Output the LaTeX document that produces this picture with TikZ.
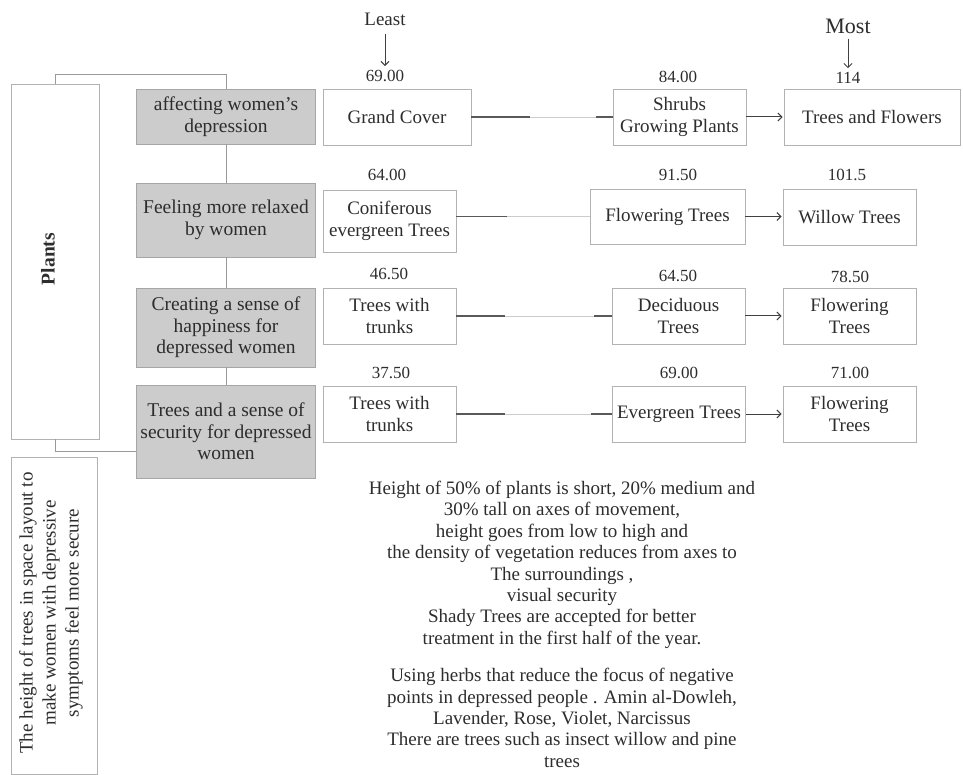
\documentclass[tikz,border=0pt]{standalone}
\usepackage{fontspec}
\setmainfont{Liberation Serif}
\usetikzlibrary{arrows.meta}
\definecolor{txt}{RGB}{45,45,45}
\begin{document}
\begin{tikzpicture}[x=1pt,y=-1pt,
  every node/.style={text=txt},
  gbox/.style={draw=black!35, fill=black!20, line width=0.8pt, align=center, inner sep=0pt, font=\fontsize{19.5}{21.5}\selectfont},
  wbox/.style={draw=black!30, fill=white, line width=0.8pt, align=center, inner sep=0pt, font=\fontsize{19}{21.5}\selectfont},
  num/.style={font=\fontsize{17}{20}\selectfont, inner sep=0pt},
  bracket/.style={draw=black!40, line width=1pt},
  faint/.style={draw=black!20, line width=0.9pt},
  strong/.style={draw=black!65, line width=1.3pt},
  arr/.style={draw=black!75, line width=1pt, shorten >=1pt, -{Straight Barb[length=4pt,width=8pt]}},
  lbl/.style={inner sep=0pt},
]
\useasboundingbox[fill=white] (0,0) rectangle (963,775);

% left column boxes
\node[wbox, minimum width=88pt, minimum height=355pt] (plants) at (55,261.5) {};
\node[lbl, rotate=90, font=\bfseries\fontsize{19.5}{22}\selectfont] (plantslbl) at (48,259) {Plants};
\node[wbox, minimum width=86pt, minimum height=317pt] (hbox) at (54,616) {};
\node[lbl, rotate=90, align=center, font=\fontsize{19}{23}\selectfont] (hboxlbl) at (51,613)
  {The height of trees in space layout to\\make women with depressive\\symptoms feel more secure};

% gray category boxes
\node[gbox, minimum width=179pt, minimum height=55pt] (g1) at (226,116.5) {affecting women's\\depression};
\node[gbox, minimum width=179pt, minimum height=74pt] (g2) at (226,220) {Feeling more relaxed\\by women};
\node[gbox, minimum width=179pt, minimum height=79pt] (g3) at (226,327.5) {Creating a sense of\\happiness for\\depressed women};
\node[gbox, minimum width=179pt, minimum height=93pt] (g4) at (226,431.5) {Trees and a sense of\\security for depressed\\women};

% brackets
\coordinate (lowy) at (0,451);
\draw[bracket] (plants.north) -- ++(0,-9) -| (g1.north);
\draw[bracket] (g1) -- (g2);
\draw[bracket] (g2) -- (g3);
\draw[bracket] (g3) -- (g4);
\draw[bracket] (plants.south) |- (g4.west |- lowy);

% row 1
\node[wbox, minimum width=148pt, minimum height=56pt] (a1) at (397,117) {Grand Cover};
\node[wbox, minimum width=133pt, minimum height=56pt] (b1) at (679.5,117) {Shrubs\\Growing Plants};
\node[wbox, minimum width=176pt, minimum height=56pt] (c1) at (872,117) {Trees and Flowers};
% row 2
\node[wbox, minimum width=133pt, minimum height=62pt] (a2) at (389.5,221) {Coniferous\\evergreen Trees};
\node[wbox, minimum width=155pt, minimum height=55pt] (b2) at (667.5,216.5) {Flowering Trees};
\node[wbox, minimum width=133pt, minimum height=56pt] (c2) at (849.5,217.5) {Willow Trees};
% row 3
\node[wbox, minimum width=133pt, minimum height=56pt] (a3) at (389.5,316) {Trees with\\trunks};
\node[wbox, minimum width=133pt, minimum height=56pt] (b3) at (678.5,316) {Deciduous\\Trees};
\node[wbox, minimum width=133pt, minimum height=56pt] (c3) at (849.5,316) {Flowering\\Trees};
% row 4
\node[wbox, minimum width=133pt, minimum height=56pt] (a4) at (389.5,414) {Trees with\\trunks};
\node[wbox, minimum width=133pt, minimum height=56pt] (b4) at (679,414) {Evergreen Trees};
\node[wbox, minimum width=133pt, minimum height=56pt] (c4) at (849.5,414) {Flowering\\Trees};

% numbers
\node[num] (n11) at (385,76) {69.00};
\node[num] (n12) at (678,77) {84.00};
\node[num] (n13) at (848,78) {114};
\node[num] (n21) at (387,175) {64.00};
\node[num] (n22) at (678,175) {91.50};
\node[num] (n23) at (847,175) {101.5};
\node[num] (n31) at (389,274) {46.50};
\node[num] (n32) at (678,276) {64.50};
\node[num] (n33) at (850,277) {78.50};
\node[num] (n41) at (391,373) {37.50};
\node[num] (n42) at (679,373) {69.00};
\node[num] (n43) at (850,373) {71.00};

% Least / Most
\node[lbl, font=\fontsize{19}{22}\selectfont] (least) at (385,19) {Least};
\node[lbl, font=\fontsize{22}{25}\selectfont] (most) at (848,26) {Most};
\draw[arr, shorten <=8pt, shorten >=4pt] (least) -- (n11);
\draw[arr, shorten <=5pt, shorten >=4pt] (most) -- (n13);

% connectors row 1
\draw[faint] (a1.east) -- (b1.west);
\draw[strong] (a1.east) -- ++(59,0);
\draw[strong] (b1.west) -- ++(-17,0);
\draw[arr] (b1.east) -- (c1.west);
% row 2
\draw[faint] (a2.east |- b2.west) -- (b2.west);
\draw[strong] (a2.east |- b2.west) -- ++(51,0);
\draw[arr] (b2.east) -- (b2.east -| c2.west);
% row 3
\draw[faint] (a3.east) -- (b3.west);
\draw[strong] (a3.east) -- ++(49,0);
\draw[strong] (b3.west) -- ++(-18,0);
\draw[arr] (b3.east) -- (c3.west);
% row 4
\draw[faint] (a4.east) -- (b4.west);
\draw[strong] (a4.east) -- ++(49,0);
\draw[strong] (b4.west) -- ++(-21,0);
\draw[arr] (b4.east) -- (c4.west);

% notes
\node[lbl, anchor=north, align=center, font=\fontsize{19}{21.4}\selectfont] (notes) at (562,481)
{Height of 50\% of plants is short, 20\% medium and\\
30\% tall on  axes of movement,\\
height goes from low to high and\\
the density of vegetation reduces from  axes to\\
The surroundings ,\\
visual security\\
Shady Trees  are accepted for better\\
treatment in the first half of the year.\\[16pt]
Using  herbs that reduce the focus of negative\\
points in depressed people . Amin al-Dowleh,\\
Lavender, Rose, Violet, Narcissus\\
There are trees such as insect willow and pine\\
trees};
\end{tikzpicture}
\end{document}
